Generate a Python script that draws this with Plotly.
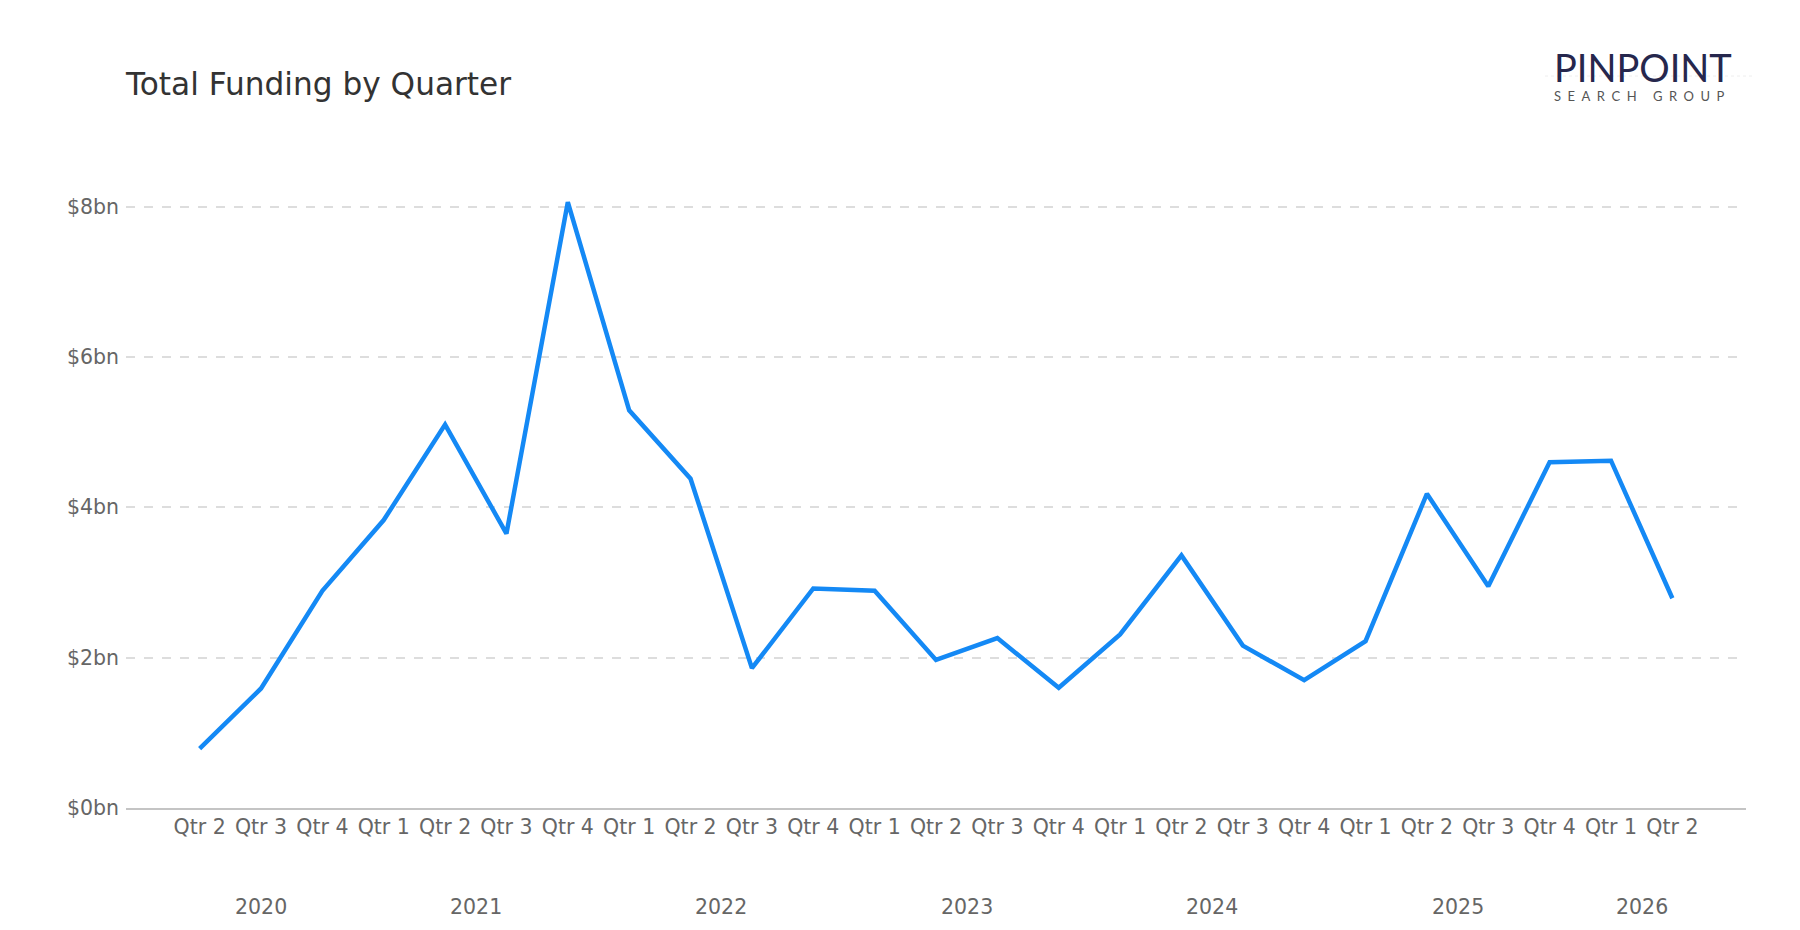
import plotly.graph_objects as go

# ---- data ----
years = ["2020", "2020", "2020",
         "2021", "2021", "2021", "2021",
         "2022", "2022", "2022", "2022",
         "2023", "2023", "2023", "2023",
         "2024", "2024", "2024", "2024",
         "2025", "2025", "2025", "2025",
         "2026", "2026"]
quarters = ["Qtr 2", "Qtr 3", "Qtr 4",
            "Qtr 1", "Qtr 2", "Qtr 3", "Qtr 4",
            "Qtr 1", "Qtr 2", "Qtr 3", "Qtr 4",
            "Qtr 1", "Qtr 2", "Qtr 3", "Qtr 4",
            "Qtr 1", "Qtr 2", "Qtr 3", "Qtr 4",
            "Qtr 1", "Qtr 2", "Qtr 3", "Qtr 4",
            "Qtr 1", "Qtr 2"]
funding_bn = [0.79, 1.59, 2.89, 3.83, 5.10, 3.65, 8.06, 5.29, 4.38,
              1.86, 2.92, 2.89, 1.97, 2.26, 1.60, 2.31, 3.36, 2.16,
              1.70, 2.22, 4.18, 2.95, 4.60, 4.62, 2.79]
y_ticks = [0, 2, 4, 6, 8]
y_tick_labels = ["$0bn", "$2bn", "$4bn", "$6bn", "$8bn"]

FONT = "DejaVu Sans"
idx = list(range(len(quarters)))

# plot-area geometry (pixels) used to place the logo in paper coordinates
W, H = 1800, 930
L, R, T, B = 126, 54, 169, 122
PW, PH = W - L - R, H - T - B


def px(xp):
    return (xp - L) / PW


def py(yp):
    return (H - B - yp) / PH


fig = go.Figure()
fig.add_trace(go.Scatter(
    x=idx, y=funding_bn, mode="lines",
    line=dict(color="#1489F5", width=4.5),
    hoverinfo="skip", showlegend=False,
))

# year group labels, centred on each year's quarters
year_order = []
for yv in years:
    if yv not in year_order:
        year_order.append(yv)
annotations = []
for yv in year_order:
    pos = [i for i, v in zip(idx, years) if v == yv]
    annotations.append(dict(
        x=sum(pos) / len(pos), y=0, xref="x", yref="paper",
        yshift=-99, text=yv, showarrow=False, yanchor="middle",
        font=dict(family=FONT, size=20.5, color="#666666"),
    ))

# logo
NB = "\u00a0"
EN = "\u2002"
sub_word = EN.join(list("SEARCH")) + EN * 2 + NB + EN.join(list("GROUP"))
annotations.append(dict(
    x=px(1643), y=py(67), xref="paper", yref="paper",
    text="PINPOINT", showarrow=False, xanchor="center", yanchor="middle",
    font=dict(family="Lato", size=38, color="#26274d"),
))
annotations.append(dict(
    x=px(1639), y=py(96), xref="paper", yref="paper",
    text=sub_word, showarrow=False, xanchor="center", yanchor="middle",
    font=dict(family="Lato", size=13, color="#555555"),
))

fig.update_layout(
    width=W, height=H,
    paper_bgcolor="white", plot_bgcolor="white",
    margin=dict(l=L, r=R, t=T, b=B),
    title=dict(
        text="Total Funding by Quarter",
        x=0, xref="paper", xanchor="left",
        y=1 - 84 / H, yref="container", yanchor="middle",
        font=dict(family=FONT, size=31.2, color="#333333"),
    ),
    xaxis=dict(
        tickmode="array", tickvals=idx, ticktext=quarters,
        range=[-1.2, len(idx) - 1 + 1.2],
        showgrid=False, zeroline=False,
        showline=True, linecolor="#c4c4c4", linewidth=1.5,
        ticks="", tickfont=dict(family=FONT, size=20.5, color="#666666"),
        tickangle=0,
    ),
    yaxis=dict(
        tickmode="array", tickvals=y_ticks, ticktext=y_tick_labels,
        range=[0, 8.5],
        showgrid=True, gridcolor="#dddddd", gridwidth=1.5, griddash="dash",
        zeroline=False, showline=False, ticks="", ticklabelstandoff=6,
        tickfont=dict(family=FONT, size=20.5, color="#666666"),
    ),
    shapes=[dict(
        type="line", xref="paper", yref="paper",
        x0=px(1545), x1=px(1755), y0=py(76), y1=py(76),
        line=dict(color="#eeeeee", width=1, dash="dot"), layer="below",
    )],
    annotations=annotations,
)

fig.write_html("out.html")
